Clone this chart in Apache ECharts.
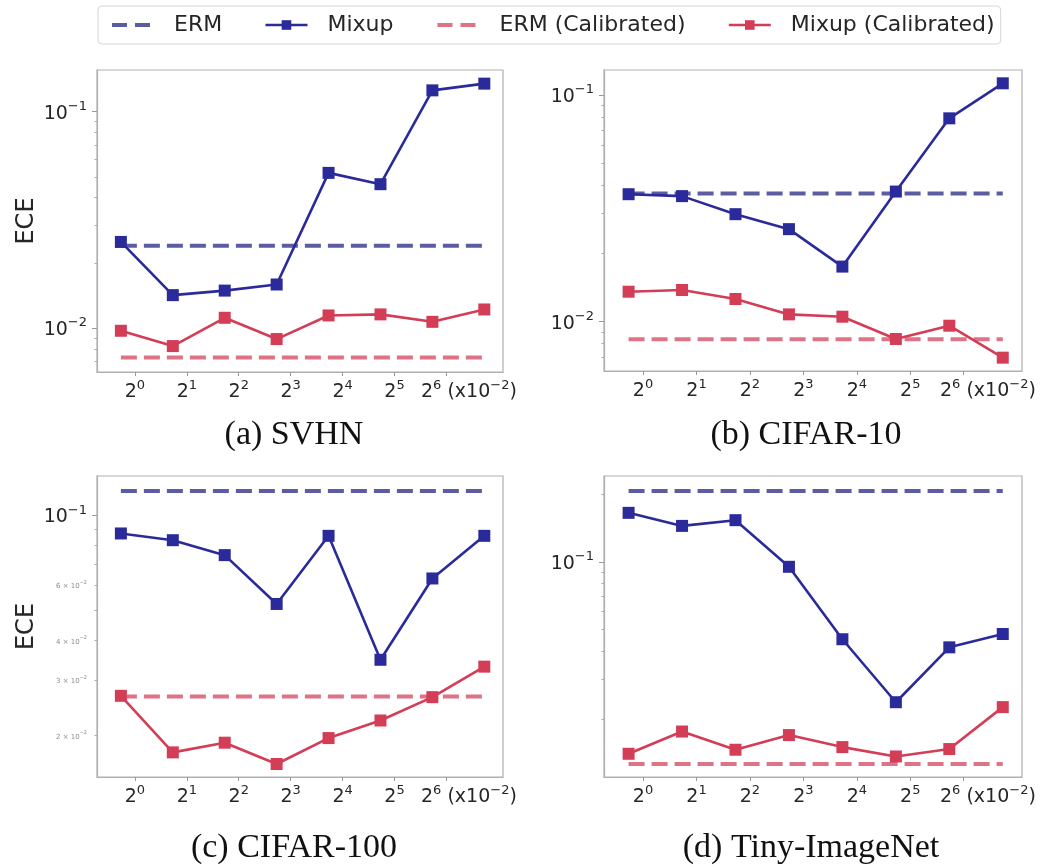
<!DOCTYPE html>
<html><head><meta charset="utf-8">
<script src="https://cdn.jsdelivr.net/npm/echarts@6/dist/echarts.min.js"></script>
<style>html,body{margin:0;padding:0;background:#fff}#c{width:1048px;height:867px}</style>
</head><body><div id="c"></div>
<script>
// ---------- data ----------
const legendNames = ['ERM', 'Mixup', 'ERM (Calibrated)', 'Mixup (Calibrated)'];
const panelTitles = ['(a) SVHN', '(b) CIFAR-10', '(c) CIFAR-100', '(d) Tiny-ImageNet'];
const pointIndex = [0, 1, 2, 3, 4, 5, 6, 7];
const xExponents = [0, 1, 2, 3, 4, 5, 6];

const svhnMixup = [0.0250, 0.0142, 0.0149, 0.0159, 0.0521, 0.0462, 0.1253, 0.1346];
const svhnMixupCal = [0.00972, 0.00826, 0.01116, 0.00890, 0.01144, 0.01157, 0.01069, 0.01219];
const svhnErm = 0.0240;
const svhnErmCal = 0.00732;

const cifar10Mixup = [0.0365, 0.0358, 0.0298, 0.0256, 0.0175, 0.0375, 0.0789, 0.1126];
const cifar10MixupCal = [0.01356, 0.01380, 0.01259, 0.01077, 0.01052, 0.00839, 0.00960, 0.00694];
const cifar10Erm = 0.0368;
const cifar10ErmCal = 0.00836;

const cifar100Mixup = [0.0875, 0.0833, 0.0747, 0.0523, 0.0860, 0.0348, 0.0630, 0.0860];
const cifar100MixupCal = [0.02675, 0.0177, 0.0190, 0.01626, 0.01965, 0.02234, 0.02649, 0.0331];
const cifar100Erm = 0.1194;
const cifar100ErmCal = 0.0266;

const tinyMixup = [0.1652, 0.1445, 0.1532, 0.0950, 0.0452, 0.0237, 0.0416, 0.0477];
const tinyMixupCal = [0.01397, 0.01755, 0.01456, 0.01692, 0.01496, 0.01359, 0.01466, 0.02254];
const tinyErm = 0.2068;
const tinyErmCal = 0.01259;

const yMajorValues = [0.001, 0.01, 0.1, 1];
const cifar100MinorLabels = [0.02, 0.03, 0.04, 0.06];

// ---------- styling / layout ----------
const F = 'DejaVu Sans';
const C_MIX = '#2a2a9a', C_ERM = '#5c5ca3', C_MIXC = '#d33d56', C_ERMC = '#de7385';
const SPINE = '#b0b0b0';
const rich = {
  b: {fontSize: 19, fontFamily: F, color: '#262626', lineHeight: 23, verticalAlign: 'bottom'},
  s: {fontSize: 13, fontFamily: F, color: '#262626', lineHeight: 14, verticalAlign: 'top'},
  n: {fontSize: 7, fontFamily: F, color: '#8c8c8c', lineHeight: 10, verticalAlign: 'bottom'},
  ns: {fontSize: 5, fontFamily: F, color: '#8c8c8c', lineHeight: 6, verticalAlign: 'top'}
};
const TICK_SHIFT = 0.27;
const tickPos = xExponents.map(e => e + TICK_SHIFT);
const labelPos = tickPos.slice(0, 6);

const minorVals = [];
[0.001, 0.01, 0.1].forEach(d => { for (let k = 2; k <= 9; k++) minorVals.push(+(d * k).toPrecision(3)); });

const panels = [
  {grid: {left: 97, top: 70, width: 406, height: 302}, yMin: 0.00627, yMax: 0.1556,
   mix: svhnMixup, mixc: svhnMixupCal, erm: svhnErm, ermc: svhnErmCal, ylabel: true, minorLabels: []},
  {grid: {left: 604, top: 70, width: 418, height: 301}, yMin: 0.00606, yMax: 0.1289,
   mix: cifar10Mixup, mixc: cifar10MixupCal, erm: cifar10Erm, ermc: cifar10ErmCal, ylabel: false, minorLabels: []},
  {grid: {left: 97, top: 476, width: 406, height: 301}, yMin: 0.01479, yMax: 0.1331,
   mix: cifar100Mixup, mixc: cifar100MixupCal, erm: cifar100Erm, ermc: cifar100ErmCal, ylabel: true, minorLabels: cifar100MinorLabels},
  {grid: {left: 604, top: 476, width: 418, height: 301}, yMin: 0.01101, yMax: 0.241,
   mix: tinyMixup, mixc: tinyMixupCal, erm: tinyErm, ermc: tinyErmCal, ylabel: false, minorLabels: []}
];
const captionPos = [[294, 415], [806, 415], [294, 828], [811, 828]];

function yFormatter(v) {
  const e = Math.floor(Math.log10(v) + 1e-9);
  const m = Math.round(v / Math.pow(10, e));
  const es = String(e).replace('-', '\u2212');
  if (m === 1) return '{b|10}{s|' + es + '}';
  return '{n|' + m + ' \u00d7 10}{ns|' + es + '}';
}
function xFormatter(v) {
  const i = Math.round(v - TICK_SHIFT);
  return '{b|2}{s|' + xExponents[i] + '}';
}

const grids = [], xAxes = [], yAxes = [], series = [], titles = [];
panels.forEach((p, i) => {
  grids.push(Object.assign({show: true, borderColor: SPINE, borderWidth: 1.2, outerBoundsMode: 'none'}, p.grid));
  xAxes.push({
    type: 'value', gridIndex: i, min: -0.46, max: 7.36,
    splitLine: {show: false},
    axisLine: {show: true, onZero: false, lineStyle: {color: SPINE, width: 1.2}},
    axisTick: {show: true, customValues: tickPos, length: 4, lineStyle: {color: '#999'}},
    axisLabel: {customValues: labelPos, formatter: xFormatter, rich: rich, margin: 7},
    name: '{b|2}{s|6}{b| (x10}{s|\u22122}{b|)}',
    nameLocation: 'end', nameGap: -82, nameMoveOverlap: false,
    nameTextStyle: {align: 'left', verticalAlign: 'top', padding: [7, 0, 0, 0], rich: rich}
  });
  const inRange = v => v >= p.yMin && v <= p.yMax;
  const majors = yMajorValues.filter(inRange);
  yAxes.push({
    type: 'log', logBase: 10, gridIndex: i, min: p.yMin, max: p.yMax, position: 'left',
    splitLine: {show: false},
    axisLine: {show: true, onZero: false, lineStyle: {color: SPINE, width: 1.2}},
    axisTick: {show: true, customValues: majors, length: 5, lineStyle: {color: '#999'}},
    axisLabel: {customValues: majors.concat(p.minorLabels), formatter: yFormatter, rich: rich, margin: 10},
    name: p.ylabel ? 'ECE' : '', nameLocation: 'middle', nameGap: 58, nameMoveOverlap: false,
    nameTextStyle: {fontFamily: F, fontSize: 24, color: '#262626'}
  });
  yAxes.push({
    type: 'log', logBase: 10, gridIndex: i, min: p.yMin, max: p.yMax, position: 'left',
    splitLine: {show: false}, axisLine: {show: false, onZero: false}, axisLabel: {show: false},
    axisTick: {show: true, customValues: minorVals.filter(inRange), length: 2.5, lineStyle: {color: '#aaa'}}
  });
  const x0 = pointIndex[0], x1 = pointIndex[pointIndex.length - 1];
  const common = {type: 'line', xAxisIndex: i, yAxisIndex: 2 * i, animation: false, silent: true};
  series.push(Object.assign({}, common, {
    name: legendNames[0], data: [[x0, p.erm], [x1, p.erm]], symbol: 'none',
    lineStyle: {color: C_ERM, width: 4, type: [16, 7], cap: 'butt'}, itemStyle: {color: C_ERM}, z: 2
  }));
  series.push(Object.assign({}, common, {
    name: legendNames[1], data: pointIndex.map((x, k) => [x, p.mix[k]]), symbol: 'rect', symbolSize: 12,
    lineStyle: {color: C_MIX, width: 2.6}, itemStyle: {color: C_MIX}, z: 3
  }));
  series.push(Object.assign({}, common, {
    name: legendNames[2], data: [[x0, p.ermc], [x1, p.ermc]], symbol: 'none',
    lineStyle: {color: C_ERMC, width: 4, type: [16, 7], cap: 'butt'}, itemStyle: {color: C_ERMC}, z: 2
  }));
  series.push(Object.assign({}, common, {
    name: legendNames[3], data: pointIndex.map((x, k) => [x, p.mixc[k]]), symbol: 'rect', symbolSize: 12,
    lineStyle: {color: C_MIXC, width: 2.6}, itemStyle: {color: C_MIXC}, z: 3
  }));
  titles.push({
    text: panelTitles[i], left: captionPos[i][0], top: captionPos[i][1], textAlign: 'center', padding: 0,
    textStyle: {fontFamily: 'Liberation Serif', fontSize: 34, fontWeight: 'normal', color: '#111', lineHeight: 40}
  });
});

const dashIcon = color => ({lineStyle: {color: color, width: 4, type: [15, 8], cap: 'butt'}, itemStyle: {opacity: 0}});
const chart = echarts.init(document.getElementById('c'), null, {renderer: 'canvas'});
chart.setOption({
  animation: false,
  backgroundColor: '#fff',
  title: titles,
  legend: {
    data: [
      Object.assign({name: legendNames[0]}, dashIcon(C_ERM)),
      {name: legendNames[1], lineStyle: {width: 2.6}},
      Object.assign({name: legendNames[2]}, dashIcon(C_ERMC)),
      {name: legendNames[3], lineStyle: {width: 2.6}}
    ],
    left: 98, top: 6, orient: 'horizontal',
    padding: [8, 6, 8, 12], itemGap: 42, itemWidth: 42, itemHeight: 12,
    borderColor: '#d6d6d6', borderWidth: 1, borderRadius: 4,
    textStyle: {fontFamily: F, fontSize: 22, color: '#262626', padding: [0, 0, 0, 15]}
  },
  grid: grids, xAxis: xAxes, yAxis: yAxes, series: series
});
</script></body></html>
